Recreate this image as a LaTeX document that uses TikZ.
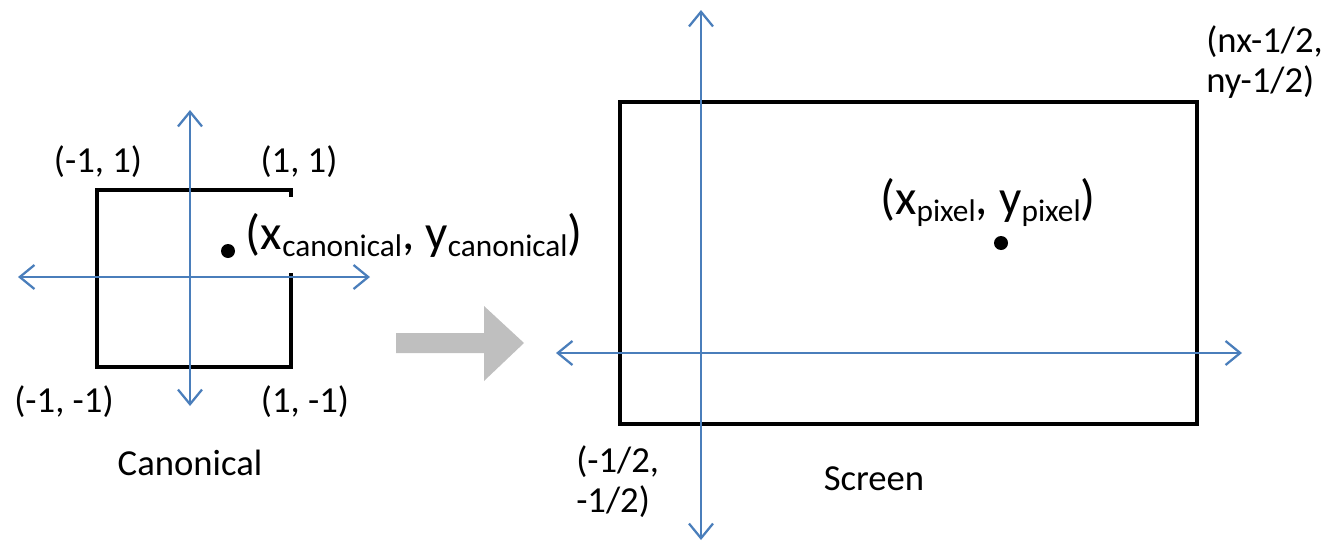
\documentclass[tikz,border=0pt]{standalone}
\usepackage{fontspec}
\setmainfont{Carlito}
\usetikzlibrary{arrows.meta}
\definecolor{axisblue}{HTML}{4A7EBB}
\definecolor{bigarrow}{HTML}{BFBFBF}
\newcommand{\lowsub}[1]{\raisebox{-5.5pt}{\fontsize{23.5}{23.5}\selectfont #1}}
\tikzset{
  axis/.style={draw=axisblue, line width=1.7pt, {Straight Barb[length=11pt,width=18pt]}-{Straight Barb[length=11pt,width=18pt]}},
  frame/.style={draw=black, line width=2.5pt, line join=miter},
  lbl/.style={font=\fontsize{27.5}{30}\selectfont, inner sep=0pt},
  biglbl/.style={font=\fontsize{37}{40}\selectfont, inner sep=0pt},
  dot/.style={circle, fill=black, inner sep=0pt, minimum size=10.5pt}
}
\begin{document}
\begin{tikzpicture}[x=0.75pt, y=-0.75pt]
\useasboundingbox (0,0) rectangle (1339,543);
% ---------- Canonical ----------
\draw[frame] (97,190) rectangle (291,367);
\node[biglbl, fill=white, anchor=west, minimum height=57pt, inner xsep=2pt] (clabel) at (243,235)
  {(x\lowsub{canonical}, y\lowsub{canonical})};
\coordinate (cvt) at (190,110);
\coordinate (cvb) at (190,406);
\coordinate (chl) at (18,277);
\coordinate (chr) at (370,277);
\draw[axis] (cvb) -- (cvt);
\draw[axis] (chl) -- (chr);
\node[dot] (cdot) at (228,251) {};
\node[lbl, anchor=base] (c1) at (98,172) {(-1, 1)};
\node[lbl, anchor=base] (c2) at (299,172) {(1, 1)};
\node[lbl, anchor=base] (c3) at (64,412) {(-1, -1)};
\node[lbl, anchor=base] (c4) at (305,412) {(1, -1)};
\node[lbl, anchor=base] (cname) at (190,475) {Canonical};
% ---------- Transformation arrow ----------
\fill[bigarrow] (396,333) -- (484,333) -- (484,306) -- (524,343) -- (484,381) -- (484,353) -- (396,353) -- cycle;
% ---------- Screen ----------
\draw[frame] (620,102) rectangle (1197,424);
\coordinate (svt) at (701,10);
\coordinate (svb) at (701,540);
\coordinate (shl) at (556,353);
\coordinate (shr) at (1242,353);
\draw[axis] (svb) -- (svt);
\draw[axis] (shl) -- (shr);
\node[dot] (sdot) at (1001,243) {};
\node[biglbl, anchor=base west] (slabel) at (880,214) {(x\lowsub{pixel}, y\lowsub{pixel})};
\node[lbl, anchor=base west] (s1a) at (1206,52) {(nx-1/2,};
\node[lbl, anchor=base west] (s1b) at (1206,92) {ny-1/2)};
\node[lbl, anchor=base west] (s2a) at (576,472) {(-1/2,};
\node[lbl, anchor=base west] (s2b) at (576,512) {-1/2)};
\node[lbl, anchor=base] (sname) at (874,490) {Screen};
\end{tikzpicture}
\end{document}
